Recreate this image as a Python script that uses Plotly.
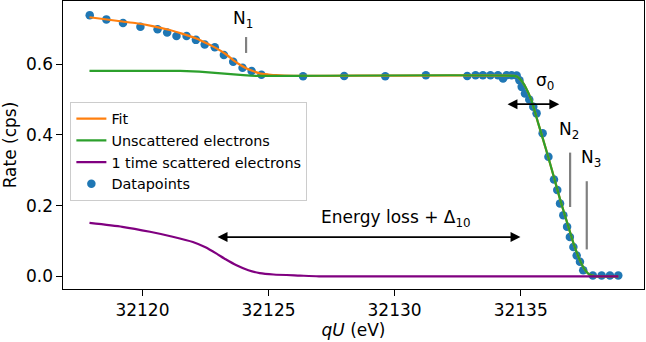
import plotly.graph_objects as go

# ---- data ----
qu_points = [32117.91, 32118.57, 32119.23, 32119.92, 32120.60, 32120.98, 32121.35, 32121.75,
             32122.12, 32122.47, 32122.87, 32123.23, 32123.60, 32123.97, 32124.33, 32124.72,
             32126.37, 32128.00, 32129.63, 32131.24, 32132.88, 32133.21, 32133.50, 32133.80,
             32134.10, 32134.30, 32134.44, 32134.64, 32134.84, 32134.95, 32135.04, 32135.17,
             32135.34, 32135.50, 32135.63, 32135.87, 32136.10, 32136.32, 32136.45, 32136.56,
             32136.69, 32136.84, 32136.95, 32137.09, 32137.22, 32137.35, 32137.48, 32137.86,
             32138.21, 32138.54, 32138.87]
rate_points = [0.739, 0.727, 0.717, 0.706, 0.699, 0.690, 0.680, 0.680,
               0.669, 0.656, 0.648, 0.626, 0.607, 0.590, 0.581, 0.570,
               0.566, 0.567, 0.566, 0.569, 0.567, 0.569, 0.569, 0.569,
               0.569, 0.560, 0.569, 0.569, 0.568, 0.555, 0.536, 0.517,
               0.500, 0.480, 0.461, 0.405, 0.338, 0.274, 0.244, 0.206,
               0.173, 0.140, 0.111, 0.083, 0.059, 0.041, 0.017, 0.002,
               0.002, 0.002, 0.002]
rate_err = 0.004

fit_x = [32117.9, 32118.44, 32119.2, 32119.76, 32120.4, 32121.08, 32121.6, 32122.14, 32122.5,
         32122.94, 32123.3, 32123.6, 32123.9, 32124.13, 32124.4, 32124.65, 32125.0, 32125.3,
         32126.0, 32134.75, 32134.9, 32135.05, 32135.2, 32135.42, 32135.7, 32136.0, 32136.3,
         32136.56, 32136.85, 32137.1, 32137.35, 32137.55, 32137.7, 32137.85, 32138.0, 32138.87]
fit_y = [0.733, 0.728, 0.721, 0.716, 0.708, 0.697, 0.686, 0.673, 0.661,
         0.645, 0.629, 0.612, 0.597, 0.588, 0.580, 0.574, 0.571, 0.569,
         0.567, 0.567, 0.563, 0.552, 0.534, 0.499, 0.432, 0.360, 0.285,
         0.218, 0.150, 0.092, 0.045, 0.018, 0.006, 0.002, 0.0, 0.0]

unsc_x = [32117.9, 32121.5, 32122.0, 32122.5, 32123.0, 32123.5, 32124.0, 32124.5, 32125.0,
          32134.75, 32134.9, 32135.05, 32135.2, 32135.42, 32135.7, 32136.0, 32136.3,
          32136.56, 32136.85, 32137.1, 32137.35, 32137.55, 32137.7, 32137.85, 32138.0, 32138.87]
unsc_y = [0.581, 0.581, 0.580, 0.578, 0.575, 0.572, 0.569, 0.567, 0.567,
          0.567, 0.563, 0.552, 0.534, 0.499, 0.432, 0.360, 0.285,
          0.218, 0.150, 0.092, 0.045, 0.018, 0.006, 0.002, 0.0, 0.0]

scat_x = [32117.9, 32119.2, 32120.3, 32121.2, 32122.0, 32122.5, 32122.94, 32123.3, 32123.73,
          32124.2, 32124.65, 32125.2, 32126.24, 32127.0, 32138.87]
scat_y = [0.151, 0.140, 0.126, 0.112, 0.097, 0.082, 0.064, 0.048, 0.031,
          0.017, 0.009, 0.005, 0.002, 0.0, 0.0]

x_ticks = [32120, 32125, 32130, 32135]
y_ticks = [0.0, 0.2, 0.4, 0.6]

FONT = "DejaVu Sans"

fig = go.Figure()
fig.add_trace(go.Scatter(x=qu_points, y=rate_points, mode="markers", name="Datapoints",
                         marker=dict(color="#1f77b4", size=8.5),
                         error_y=dict(type="constant", value=rate_err, color="#1f77b4",
                                      thickness=1.5, width=0),
                         legendrank=4))
fig.add_trace(go.Scatter(x=fit_x, y=fit_y, mode="lines", name="Fit",
                         line=dict(color="#ff7f0e", width=2.2, shape="spline", smoothing=0.5),
                         legendrank=1))
fig.add_trace(go.Scatter(x=unsc_x, y=unsc_y, mode="lines", name="Unscattered electrons",
                         line=dict(color="#2ca02c", width=2.2, shape="spline", smoothing=0.5),
                         legendrank=2))
fig.add_trace(go.Scatter(x=scat_x, y=scat_y, mode="lines", name="1 time scattered electrons",
                         line=dict(color="#800080", width=2.2, shape="spline", smoothing=0.6),
                         legendrank=3))

# gray marker lines
for (lx, y0, y1) in [(32124.11, 0.632, 0.677), (32136.96, 0.196, 0.350), (32137.62, 0.076, 0.269)]:
    fig.add_shape(type="line", x0=lx, x1=lx, y0=y0, y1=y1, xref="x", yref="y",
                  line=dict(color="#808080", width=2.2))

ann = []
# double-headed arrows
for (x0, x1, ya) in [(32134.42, 32136.53, 0.487), (32122.92, 32134.99, 0.111)]:
    ann.append(dict(x=x1, y=ya, ax=x0, ay=ya, xref="x", yref="y", axref="x", ayref="y",
                    text="", showarrow=True, arrowhead=2, arrowside="end+start",
                    arrowsize=1.1, arrowwidth=1.8, arrowcolor="black"))
for (tx, ty, t) in [(32123.99, 0.728, "N<sub>1</sub>"), (32135.96, 0.550, "σ<sub>0</sub>"),
                    (32136.91, 0.412, "N<sub>2</sub>"), (32137.79, 0.334, "N<sub>3</sub>"),
                    (32130.07, 0.163, "Energy loss + Δ<sub>10</sub>")]:
    ann.append(dict(x=tx, y=ty, xref="x", yref="y", text=t, showarrow=False,
                    font=dict(family=FONT, size=17, color="black")))

fig.update_layout(
    width=646, height=342,
    margin=dict(l=63, r=2, t=1, b=53, autoexpand=False),
    paper_bgcolor="white", plot_bgcolor="white",
    font=dict(family=FONT, size=17, color="black"),
    annotations=ann,
    showlegend=True,
    legend=dict(x=0.0127, y=0.65, xanchor="left", yanchor="top",
                bgcolor="rgba(255,255,255,0.8)", bordercolor="#cccccc", borderwidth=1,
                font=dict(family=FONT, size=14.4, color="black"),
                tracegroupgap=0, itemwidth=30),
)
fig.update_xaxes(range=[32116.85, 32139.89], tickvals=x_ticks, ticktext=[str(v) for v in x_ticks],
                 showgrid=False, zeroline=False, showline=True, linecolor="black", linewidth=1.1,
                 mirror=True, ticks="outside", ticklen=5.5, tickwidth=1.1, tickcolor="black",
                 tickfont=dict(family=FONT, size=17, color="black"),
                 title=dict(text="<i>qU</i> (eV)", font=dict(family=FONT, size=17), standoff=3),
                 automargin=False)
fig.update_yaxes(range=[-0.036, 0.779], tickvals=y_ticks, ticktext=[f"{v:.1f}" for v in y_ticks],
                 showgrid=False, zeroline=False, showline=True, linecolor="black", linewidth=1.1,
                 mirror=True, ticks="outside", ticklen=5.5, tickwidth=1.1, tickcolor="black",
                 tickfont=dict(family=FONT, size=17, color="black"),
                 title=dict(text="Rate (cps)", font=dict(family=FONT, size=17), standoff=9),
                 automargin=False)

fig.write_html("out.html")
